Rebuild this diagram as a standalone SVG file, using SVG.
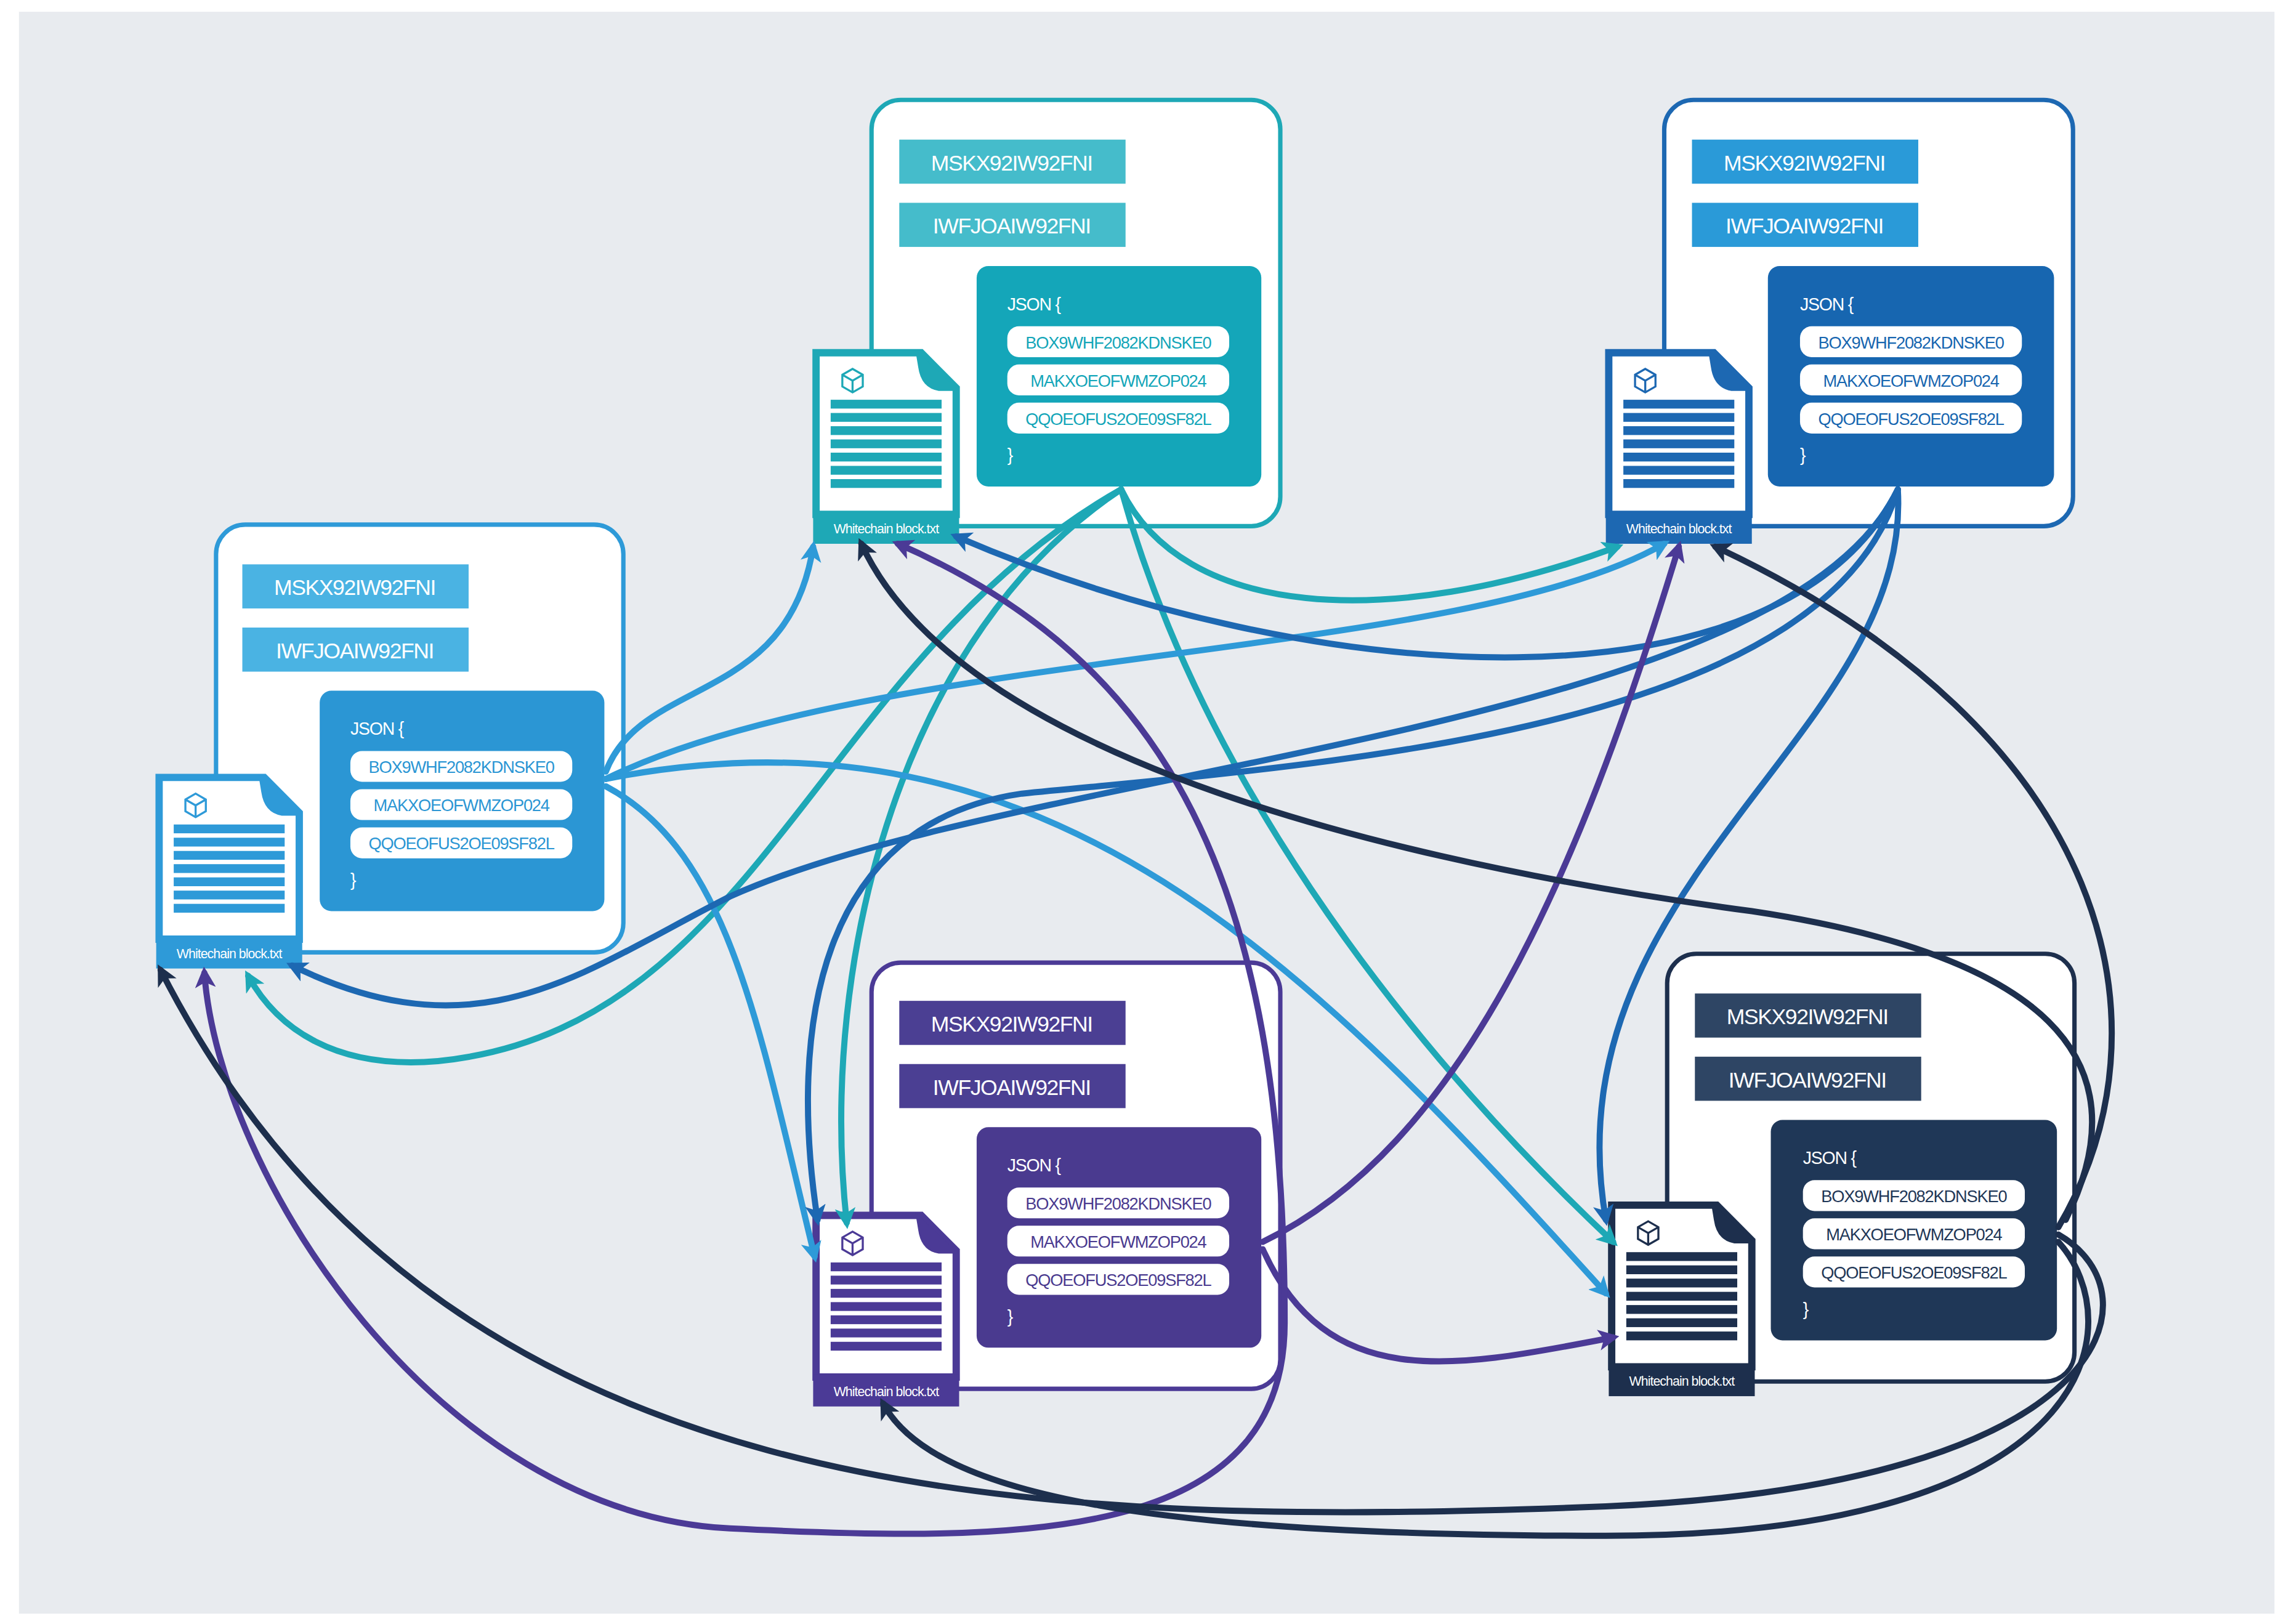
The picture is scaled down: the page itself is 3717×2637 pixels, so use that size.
<svg xmlns="http://www.w3.org/2000/svg" xmlns:xlink="http://www.w3.org/1999/xlink" width="3717" height="2637" viewBox="0 0 3717 2637">
<style>
.lbl{font-family:"Liberation Sans",Arial,sans-serif;font-size:15px;fill:#fff;text-anchor:middle;letter-spacing:-0.6px}
.js{font-family:"Liberation Sans",Arial,sans-serif;font-size:12px;fill:#fff;letter-spacing:-0.5px}
.pt{font-family:"Liberation Sans",Arial,sans-serif;font-size:11.5px;text-anchor:middle;letter-spacing:-0.5px}
.fl{font-family:"Liberation Sans",Arial,sans-serif;font-size:9px;fill:#fff;text-anchor:middle;letter-spacing:-0.4px}
.c{fill:none;stroke-width:4.2;stroke-linecap:round}
</style>
<defs>
<marker id="mT" viewBox="0 0 10 10" refX="7" refY="5" markerWidth="3.4" markerHeight="3.4" orient="auto-start-reverse"><path d="M0,0 L10,5 L0,10 L2.5,5 Z" fill="#1ea8b6"/></marker>
<marker id="mB" viewBox="0 0 10 10" refX="7" refY="5" markerWidth="3.4" markerHeight="3.4" orient="auto-start-reverse"><path d="M0,0 L10,5 L0,10 L2.5,5 Z" fill="#1d68b2"/></marker>
<marker id="mL" viewBox="0 0 10 10" refX="7" refY="5" markerWidth="3.4" markerHeight="3.4" orient="auto-start-reverse"><path d="M0,0 L10,5 L0,10 L2.5,5 Z" fill="#2e9ad8"/></marker>
<marker id="mP" viewBox="0 0 10 10" refX="7" refY="5" markerWidth="3.4" markerHeight="3.4" orient="auto-start-reverse"><path d="M0,0 L10,5 L0,10 L2.5,5 Z" fill="#4b3a96"/></marker>
<marker id="mN" viewBox="0 0 10 10" refX="7" refY="5" markerWidth="3.4" markerHeight="3.4" orient="auto-start-reverse"><path d="M0,0 L10,5 L0,10 L2.5,5 Z" fill="#1d2f4d"/></marker>
<symbol id="file" viewBox="0 0 100 132" overflow="visible">
<rect x="4" y="4" width="92" height="108" fill="#fff"/>
<path d="M2,2 H74 L98,26 V112 H2 Z" fill="none" stroke="currentColor" stroke-width="5"/>
<path d="M70,0 L100,28 L86,28 Q74,26 72,12 Z" fill="currentColor"/>
<path d="M20,17 l7,-4 l7,4 v8 l-7,4 l-7,-4 z M20,17 l7,4 l7,-4 M27,21 v8" fill="none" stroke="currentColor" stroke-width="1.4"/>
<g fill="currentColor">
<rect x="12" y="34" width="76" height="6"/><rect x="12" y="43" width="76" height="6"/><rect x="12" y="52" width="76" height="6"/><rect x="12" y="61" width="76" height="6"/><rect x="12" y="70" width="76" height="6"/><rect x="12" y="79" width="76" height="6"/><rect x="12" y="88" width="76" height="6"/>
</g>
<rect x="0" y="110" width="100" height="22" fill="currentColor"/>
<text x="50" y="125" class="fl">Whitechain block.txt</text>
</symbol>
</defs>
<rect width="3717" height="2637" fill="#fff"/>
<g transform="scale(2.3706,2.3864)">
<rect x="13" y="8" width="1545" height="1090" fill="#e8ebef"/>

<g id="node-top-center" transform="translate(597,68)">
<rect x="0" y="0" width="280" height="290" rx="20" fill="#fff" stroke="#1ea8b6" stroke-width="3"/>
<rect x="19" y="27" width="155" height="30" fill="#45bccb"/><text x="96" y="48" class="lbl">MSKX92IW92FNI</text>
<rect x="19" y="70" width="155" height="30" fill="#45bccb"/><text x="96" y="91" class="lbl">IWFJOAIW92FNI</text>
<rect x="72" y="113" width="195" height="150" rx="8" fill="#14a6b9"/>
<text x="93" y="143" class="js">JSON {</text>
<rect x="93" y="154" width="152" height="21" rx="8" fill="#fff"/><text x="169" y="169" class="pt" fill="#14a6b9">BOX9WHF2082KDNSKE0</text>
<rect x="93" y="180" width="152" height="21" rx="8" fill="#fff"/><text x="169" y="195" class="pt" fill="#14a6b9">MAKXOEOFWMZOP024</text>
<rect x="93" y="206" width="152" height="21" rx="8" fill="#fff"/><text x="169" y="221" class="pt" fill="#14a6b9">QQOEOFUS2OE09SF82L</text>
<text x="93" y="246" class="js">}</text>
<use xlink:href="#file" x="-40" y="170" width="100" height="132" color="#1ea8b6"/>
</g>

<g id="node-top-right" transform="translate(1140,68)">
<rect x="0" y="0" width="280" height="290" rx="20" fill="#fff" stroke="#1d68b2" stroke-width="3"/>
<rect x="19" y="27" width="155" height="30" fill="#2a9ad8"/><text x="96" y="48" class="lbl">MSKX92IW92FNI</text>
<rect x="19" y="70" width="155" height="30" fill="#2a9ad8"/><text x="96" y="91" class="lbl">IWFJOAIW92FNI</text>
<rect x="71" y="113" width="196" height="150" rx="8" fill="#1766b0"/>
<text x="93" y="143" class="js">JSON {</text>
<rect x="93" y="154" width="152" height="21" rx="8" fill="#fff"/><text x="169" y="169" class="pt" fill="#1766b0">BOX9WHF2082KDNSKE0</text>
<rect x="93" y="180" width="152" height="21" rx="8" fill="#fff"/><text x="169" y="195" class="pt" fill="#1766b0">MAKXOEOFWMZOP024</text>
<rect x="93" y="206" width="152" height="21" rx="8" fill="#fff"/><text x="169" y="221" class="pt" fill="#1766b0">QQOEOFUS2OE09SF82L</text>
<text x="93" y="246" class="js">}</text>
<use xlink:href="#file" x="-40" y="170" width="100" height="132" color="#1d68b2"/>
</g>

<g id="node-left" transform="translate(148,357)">
<rect x="0" y="0" width="279" height="291" rx="20" fill="#fff" stroke="#2e9ad8" stroke-width="3"/>
<rect x="18" y="27" width="155" height="30" fill="#4ab3e3"/><text x="95" y="48" class="lbl">MSKX92IW92FNI</text>
<rect x="18" y="70" width="155" height="30" fill="#4ab3e3"/><text x="95" y="91" class="lbl">IWFJOAIW92FNI</text>
<rect x="71" y="113" width="195" height="150" rx="8" fill="#2b96d4"/>
<text x="92" y="143" class="js">JSON {</text>
<rect x="92" y="154" width="152" height="21" rx="8" fill="#fff"/><text x="168" y="169" class="pt" fill="#2b96d4">BOX9WHF2082KDNSKE0</text>
<rect x="92" y="180" width="152" height="21" rx="8" fill="#fff"/><text x="168" y="195" class="pt" fill="#2b96d4">MAKXOEOFWMZOP024</text>
<rect x="92" y="206" width="152" height="21" rx="8" fill="#fff"/><text x="168" y="221" class="pt" fill="#2b96d4">QQOEOFUS2OE09SF82L</text>
<text x="92" y="246" class="js">}</text>
<use xlink:href="#file" x="-41" y="170" width="100" height="132" color="#2e9ad8"/>
</g>

<g id="node-bottom-center" transform="translate(597,655)">
<rect x="0" y="0" width="280" height="290" rx="20" fill="#fff" stroke="#4b3a96" stroke-width="3"/>
<rect x="19" y="26" width="155" height="30" fill="#4b3f93"/><text x="96" y="47" class="lbl">MSKX92IW92FNI</text>
<rect x="19" y="69" width="155" height="30" fill="#4b3f93"/><text x="96" y="90" class="lbl">IWFJOAIW92FNI</text>
<rect x="72" y="112" width="195" height="150" rx="8" fill="#4a3a8f"/>
<text x="93" y="142" class="js">JSON {</text>
<rect x="93" y="153" width="152" height="21" rx="8" fill="#fff"/><text x="169" y="168" class="pt" fill="#4a3a8f">BOX9WHF2082KDNSKE0</text>
<rect x="93" y="179" width="152" height="21" rx="8" fill="#fff"/><text x="169" y="194" class="pt" fill="#4a3a8f">MAKXOEOFWMZOP024</text>
<rect x="93" y="205" width="152" height="21" rx="8" fill="#fff"/><text x="169" y="220" class="pt" fill="#4a3a8f">QQOEOFUS2OE09SF82L</text>
<text x="93" y="245" class="js">}</text>
<use xlink:href="#file" x="-40" y="170" width="100" height="132" color="#4b3a96"/>
</g>

<g id="node-bottom-right" transform="translate(1142,649)">
<rect x="0" y="0" width="279" height="291" rx="20" fill="#fff" stroke="#1d2f4d" stroke-width="3"/>
<rect x="19" y="27" width="155" height="30" fill="#2e4564"/><text x="96" y="48" class="lbl">MSKX92IW92FNI</text>
<rect x="19" y="70" width="155" height="30" fill="#2e4564"/><text x="96" y="91" class="lbl">IWFJOAIW92FNI</text>
<rect x="71" y="113" width="196" height="150" rx="8" fill="#1f3757"/>
<text x="93" y="143" class="js">JSON {</text>
<rect x="93" y="154" width="152" height="21" rx="8" fill="#fff"/><text x="169" y="169" class="pt" fill="#1f3757">BOX9WHF2082KDNSKE0</text>
<rect x="93" y="180" width="152" height="21" rx="8" fill="#fff"/><text x="169" y="195" class="pt" fill="#1f3757">MAKXOEOFWMZOP024</text>
<rect x="93" y="206" width="152" height="21" rx="8" fill="#fff"/><text x="169" y="221" class="pt" fill="#1f3757">QQOEOFUS2OE09SF82L</text>
<text x="93" y="246" class="js">}</text>
<use xlink:href="#file" x="-40" y="169" width="100" height="132" color="#1d2f4d"/>
</g>

<g id="connectors">
<path class="c" stroke="#1ea8b6" marker-end="url(#mT)" d="M768,333 C810,420 950,430 1108,372"/>
<path class="c" stroke="#1ea8b6" marker-end="url(#mT)" d="M768,333 C560,450 520,700 300,722 C230,728 190,700 170,664"/>
<path class="c" stroke="#1ea8b6" marker-end="url(#mT)" d="M768,333 C620,430 560,650 580,832"/>
<path class="c" stroke="#1ea8b6" marker-end="url(#mT)" d="M768,333 C820,520 950,700 1105,845"/>
<path class="c" stroke="#2e9ad8" marker-end="url(#mL)" d="M415,525 C440,460 540,480 557,372"/>
<path class="c" stroke="#2e9ad8" marker-end="url(#mL)" d="M415,530 C600,440 1000,450 1140,370"/>
<path class="c" stroke="#2e9ad8" marker-end="url(#mL)" d="M415,535 C500,580 520,700 558,855"/>
<path class="c" stroke="#2e9ad8" marker-end="url(#mL)" d="M415,530 C720,470 900,660 1100,880"/>
<path class="c" stroke="#1d68b2" marker-end="url(#mB)" d="M1300,333 C1220,490 900,470 655,365"/>
<path class="c" stroke="#1d68b2" marker-end="url(#mB)" d="M1300,333 C1220,500 700,520 500,610 C400,660 330,720 200,657"/>
<path class="c" stroke="#1d68b2" marker-end="url(#mB)" d="M1300,333 C1250,500 900,520 700,540 C560,560 540,700 560,830"/>
<path class="c" stroke="#1d68b2" marker-end="url(#mB)" d="M1300,333 C1310,500 1060,600 1100,830"/>
<path class="c" stroke="#4b3a96" marker-end="url(#mP)" d="M865,845 C1000,780 1080,600 1150,372"/>
<path class="c" stroke="#4b3a96" marker-end="url(#mP)" d="M865,850 C910,950 1000,930 1105,910"/>
<path class="c" stroke="#4b3a96" marker-start="url(#mP)" marker-end="url(#mP)" d="M615,370 C800,450 880,600 880,900 C880,1050 700,1050 500,1040 C300,1030 150,800 140,662"/>
<path class="c" stroke="#1d2f4d" marker-end="url(#mN)" d="M1410,835 C1490,700 1450,500 1175,372"/>
<path class="c" stroke="#1d2f4d" marker-end="url(#mN)" d="M1415,830 C1470,720 1400,650 1200,620 C900,580 650,500 590,370"/>
<path class="c" stroke="#1d2f4d" marker-end="url(#mN)" d="M1410,840 C1480,880 1450,1010 1100,1025 C700,1040 300,1030 110,660"/>
<path class="c" stroke="#1d2f4d" marker-end="url(#mN)" d="M1410,845 C1460,900 1440,1045 1100,1045 C800,1045 640,1020 605,955"/>
</g>
</g>
</svg>
